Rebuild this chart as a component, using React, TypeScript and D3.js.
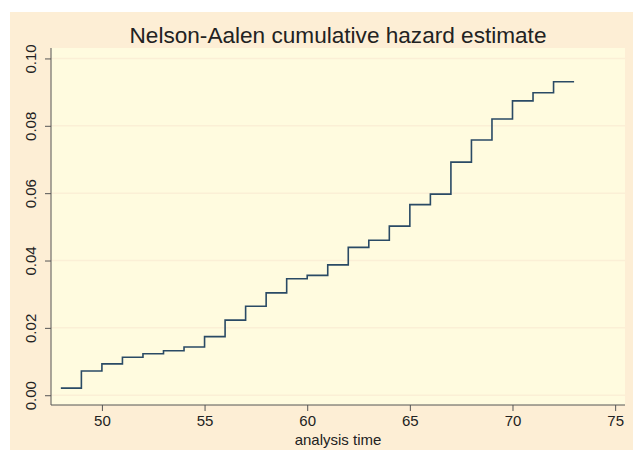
import { useEffect, useRef } from "react";
import * as d3 from "d3";

// Nelson-Aalen estimate: value holds from each time until the next one
const times = [48, 49, 50, 51, 52, 53, 54, 55, 56, 57, 58, 59, 60, 61, 62, 63, 64, 65, 66, 67, 68, 69, 70, 71, 72];
const hazard = [
  0.0021, 0.0072, 0.0093, 0.0113, 0.0123, 0.0132, 0.0143, 0.0174, 0.0223, 0.0264,
  0.0304, 0.0346, 0.0356, 0.0387, 0.0439, 0.0460, 0.0502, 0.0566, 0.0597, 0.0692,
  0.0758, 0.0820, 0.0874, 0.0898, 0.0931,
];
const lastTime = 73;
const xTicks = [50, 55, 60, 65, 70, 75];
const yTicks = [0, 0.02, 0.04, 0.06, 0.08, 0.1];

const title = "Nelson-Aalen cumulative hazard estimate";
const xTitle = "analysis time";

export default function App() {
  const ref = useRef<SVGSVGElement>(null);

  useEffect(() => {
    const W = 633, H = 450;
    const plot = { left: 51, right: 625, top: 48, bottom: 405 };
    const font = "'Liberation Sans', Arial, sans-serif";

    const svg = d3.select(ref.current);
    svg.selectAll("*").remove();
    svg.attr("width", W).attr("height", H);

    svg.append("rect").attr("width", W).attr("height", H).attr("fill", "#ffffff");
    svg.append("rect")
      .attr("x", 10).attr("y", 12)
      .attr("width", W - 10).attr("height", H - 12)
      .attr("fill", "#fdeed5");
    svg.append("rect")
      .attr("x", plot.left).attr("y", plot.top)
      .attr("width", plot.right - plot.left).attr("height", plot.bottom - plot.top)
      .attr("fill", "#fffbdf");

    const x = d3.scaleLinear().domain([47.52, 75.48]).range([plot.left, plot.right]);
    const y = d3.scaleLinear().domain([-0.0029, 0.1031]).range([plot.bottom, plot.top]);

    // faint horizontal grid
    svg.append("g")
      .selectAll("line")
      .data(yTicks)
      .join("line")
      .attr("x1", plot.left).attr("x2", plot.right)
      .attr("y1", d => y(d)).attr("y2", d => y(d))
      .attr("stroke", "#fbefd6")
      .attr("stroke-width", 1.5);

    const data = times.map((t, i) => ({ t, h: hazard[i] }));
    data.push({ t: lastTime, h: hazard[hazard.length - 1] });

    const line = d3.line<{ t: number; h: number }>()
      .x(d => x(d.t))
      .y(d => y(d.h))
      .curve(d3.curveStepAfter);

    svg.append("path")
      .datum(data)
      .attr("fill", "none")
      .attr("stroke", "#2a4a65")
      .attr("stroke-width", 1.6)
      .attr("d", line);

    const yAxis = svg.append("g")
      .attr("transform", `translate(${plot.left},0)`)
      .call(d3.axisLeft(y).tickValues(yTicks).tickSize(6).tickPadding(4).tickFormat(d3.format(".2f")));
    yAxis.select(".domain")
      .attr("d", `M0,${plot.top}V${plot.bottom}`)
      .attr("stroke", "#555");
    yAxis.selectAll(".tick line").attr("stroke", "#555");
    yAxis.selectAll(".tick text")
      .attr("font-family", font)
      .attr("font-size", 15)
      .attr("fill", "#222")
      .attr("x", null).attr("dy", null)
      .attr("text-anchor", "middle")
      .attr("transform", "translate(-15,0) rotate(-90)");

    const xAxis = svg.append("g")
      .attr("transform", `translate(0,${plot.bottom})`)
      .call(d3.axisBottom(x).tickValues(xTicks).tickSize(6).tickPadding(4));
    xAxis.select(".domain")
      .attr("d", `M${plot.left},0H${plot.right}`)
      .attr("stroke", "#555");
    xAxis.selectAll(".tick line").attr("stroke", "#555");
    xAxis.selectAll(".tick text")
      .attr("font-family", font)
      .attr("font-size", 15)
      .attr("fill", "#222");

    svg.append("text")
      .attr("x", (plot.left + plot.right) / 2)
      .attr("y", 445)
      .attr("text-anchor", "middle")
      .attr("font-family", font)
      .attr("font-size", 15)
      .attr("fill", "#222")
      .text(xTitle);

    svg.append("text")
      .attr("x", (plot.left + plot.right) / 2)
      .attr("y", 42.5)
      .attr("text-anchor", "middle")
      .attr("font-family", font)
      .attr("font-size", 22.6)
      .attr("fill", "#222")
      .text(title);
  }, []);

  return (
    <div style={{ position: "absolute", left: 0, top: 0 }}>
      <svg ref={ref} style={{ display: "block" }} />
    </div>
  );
}
